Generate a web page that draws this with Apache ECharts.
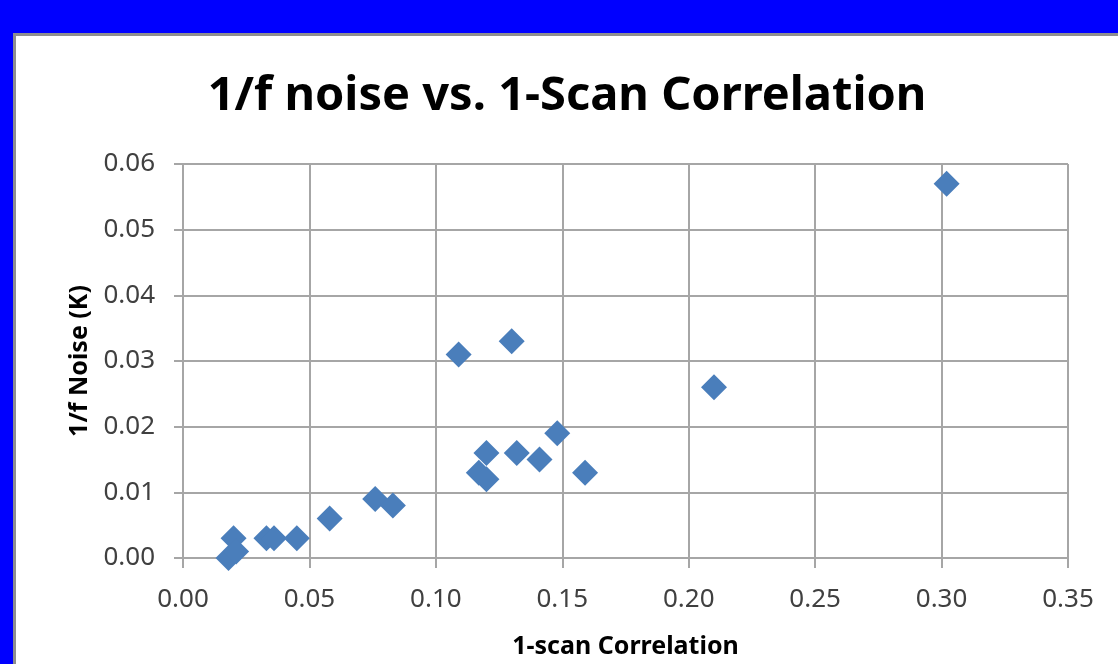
<!DOCTYPE html>
<html>
<head>
    <meta charset="utf-8">
    <title>1/f noise vs. 1-Scan Correlation</title>
    <script src="https://cdn.jsdelivr.net/npm/echarts@6/dist/echarts.min.js"></script>
    <style>
        html, body { margin: 0; padding: 0; background: #0000ff; overflow: hidden; }
        #main {
            position: absolute;
            left: 13px;
            top: 33px;
            width: 1105px;
            height: 631px;
            box-sizing: border-box;
            border-left: 3px solid #8e8e8e;
            border-top: 3px solid #8e8e8e;
            background: #ffffff;
        }
    </style>
</head>
<body>
    <div id="main"></div>
    <script>
        // 1-scan correlation (x) and 1/f noise in K (y)
        const correlation = [0.018, 0.020, 0.021, 0.033, 0.036, 0.045, 0.058, 0.076, 0.083,
                             0.109, 0.130, 0.120, 0.117, 0.120, 0.132, 0.141, 0.148, 0.159, 0.210, 0.302];
        const noise = [0.000, 0.003, 0.001, 0.003, 0.003, 0.003, 0.006, 0.009, 0.008,
                       0.031, 0.033, 0.016, 0.013, 0.012, 0.016, 0.015, 0.019, 0.013, 0.026, 0.057];
        const xTicks = [0, 0.05, 0.10, 0.15, 0.20, 0.25, 0.30, 0.35];
        const yTicks = [0, 0.01, 0.02, 0.03, 0.04, 0.05, 0.06];

        const points = correlation.map((c, i) => [c, noise[i]]);
        const font = 'Noto Sans';
        const gridGray = '#a6a6a6';

        var myChart = echarts.init(document.getElementById('main'));
        const option = {
            animation: false,
            title: {
                text: '1/f noise vs. 1-Scan Correlation',
                left: 'center',
                top: 32,
                textStyle: { fontFamily: font, fontSize: 47, fontWeight: 'bold', color: '#000' }
            },
            grid: { left: 167, right: 50, top: 128, bottom: 103 },
            xAxis: {
                type: 'value',
                min: xTicks[0],
                max: xTicks[xTicks.length - 1],
                interval: 0.05,
                name: '1-scan Correlation',
                nameLocation: 'middle',
                nameGap: 76,
                nameTextStyle: { fontFamily: font, fontSize: 25, fontWeight: 'bold', color: '#000' },
                axisLine: { show: true, lineStyle: { color: gridGray, width: 2 } },
                axisTick: { show: true, length: 10, lineStyle: { color: gridGray, width: 2 } },
                splitLine: { show: true, lineStyle: { color: gridGray, width: 2 } },
                axisLabel: {
                    margin: 29,
                    fontFamily: font, fontSize: 26, color: '#404040',
                    formatter: v => v.toFixed(2)
                }
            },
            yAxis: {
                type: 'value',
                min: yTicks[0],
                max: yTicks[yTicks.length - 1],
                interval: 0.01,
                name: '1/f Noise (K)',
                nameLocation: 'middle',
                nameGap: 88,
                nameTextStyle: { fontFamily: font, fontSize: 25, fontWeight: 'bold', color: '#000' },
                axisLine: { show: true, lineStyle: { color: gridGray, width: 2 } },
                axisTick: { show: true, length: 9, lineStyle: { color: gridGray, width: 2 } },
                splitLine: { show: true, lineStyle: { color: gridGray, width: 2 } },
                axisLabel: {
                    margin: 28,
                    fontFamily: font, fontSize: 26, color: '#404040',
                    formatter: v => v.toFixed(2)
                }
            },
            series: [{
                type: 'scatter',
                symbol: 'diamond',
                symbolSize: 26,
                data: points,
                itemStyle: { color: '#4a7ebb', opacity: 1 }
            }]
        };
        myChart.setOption(option);
    </script>
</body>
</html>
